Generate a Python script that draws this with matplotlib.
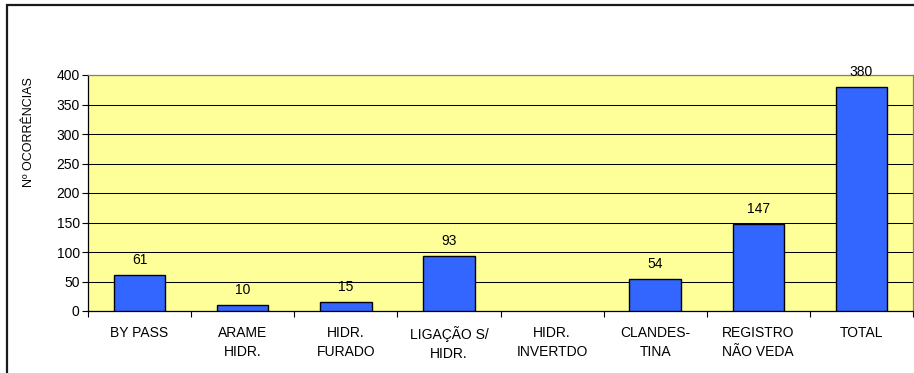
import numpy as np
import matplotlib
matplotlib.use("Agg")
import matplotlib.pyplot as plt
from matplotlib.patches import Rectangle

plt.rcParams['font.family'] = ['Liberation Sans', 'DejaVu Sans']

# ocorrências por tipo de irregularidade
categorias = ['BY PASS', 'ARAME\nHIDR.', 'HIDR.\nFURADO', 'LIGAÇÃO S/\nHIDR.',
              'HIDR.\nINVERTDO', 'CLANDES-\nTINA', 'REGISTRO\nNÃO VEDA', 'TOTAL']
ocorrencias = [61, 10, 15, 93, np.nan, 54, 147, 380]
yticks = [0, 50, 100, 150, 200, 250, 300, 350, 400]

fig = plt.figure(figsize=(9.14, 3.73), dpi=100)
ax = fig.add_axes([88 / 914, 1 - 311 / 373, 825 / 914, 236 / 373])
ax.set_facecolor('#FFFF99')

x = np.arange(len(categorias))
bars = ax.bar(x, ocorrencias, width=0.5, color='#3366FF', edgecolor='black',
              linewidth=1.0, zorder=3)

for xi, v in zip(x, ocorrencias):
    if np.isnan(v):
        continue
    ax.annotate(f'{v:.0f}', (xi, v), xytext=(0, 11), textcoords='offset points',
                ha='center', va='center', fontsize=10, color='black', zorder=4)

ax.set_xlim(-0.5, len(categorias) - 0.5)
ax.set_ylim(0, 400)
ax.set_yticks(yticks)
ax.set_xticks(np.arange(len(categorias) + 1) - 0.5, minor=True)
ax.set_xticks(x)
ax.set_xticklabels(categorias, fontsize=10, linespacing=1.4)
ax.tick_params(axis='x', which='major', length=0, pad=11)
ax.tick_params(axis='x', which='minor', length=4, width=0.8, direction='out')
ax.tick_params(axis='y', length=4, width=0.8, direction='out', labelsize=10, pad=2)

ax.yaxis.grid(True, color='black', linewidth=0.75, zorder=0)
ax.set_axisbelow(True)

for s in ['top', 'right']:
    ax.spines[s].set_color('#808080')
    ax.spines[s].set_linewidth(0.9)
for s in ['left', 'bottom']:
    ax.spines[s].set_color('black')
    ax.spines[s].set_linewidth(0.9)

ax.set_ylabel('Nº OCORRÊNCIAS', fontsize=9)
ax.yaxis.set_label_coords(-0.064, 0.76)

# moldura externa do gráfico
fig.patches.append(Rectangle((7 / 914, -0.5), 2.0, (373 - 5) / 373 + 0.5,
                             transform=fig.transFigure, fill=False,
                             edgecolor='#1a1a1a', linewidth=1.6))

fig.savefig('out.png', dpi=100)
